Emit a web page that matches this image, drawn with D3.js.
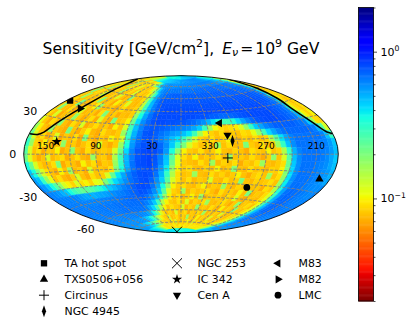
<!DOCTYPE html>
<html>
<head>
<meta charset="utf-8">
<script src="https://cdn.jsdelivr.net/npm/d3@7"></script>
<style>
  body { margin: 0; background: #fff; }
  text { font-family: "DejaVu Sans", sans-serif; fill: #000; }
</style>
</head>
<body>
<div id="chart"></div>
<script>
// grid of the map, degrees (galactic lon runs right to left)
var lonCenters = [177,171,165,159,153,147,141,135,129,123,117,111,105,99,93,87,81,75,69,63,57,51,45,39,33,27,21,15,9,3,-3,-9,-15,-21,-27,-33,-39,-45,-51,-57,-63,-69,-75,-81,-87,-93,-99,-105,-111,-117,-123,-129,-135,-141,-147,-153,-159,-165,-171,-177];
var latCenters = [87,81,75,69,63,57,51,45,39,33,27,21,15,9,3,-3,-9,-15,-21,-27,-33,-39,-45,-51,-57,-63,-69,-75,-81,-87];

// sensitivity, in 1e-3 GeV/cm2, one row per latitude
var sensRows = [
[350,350,350,350,350,350,350,350,350,350,350,350,350,350,350,350,350,350,350,350,380,380,380,380,380,380,380,380,380,380,450,450,450,450,450,450,450,450,450,450,470,470,470,470,470,470,470,470,470,470,500,500,500,500,500,470,470,450,400,380],
[110,100,100,110,120,120,135,150,170,190,250,290,320,350,380,400,420,440,450,450,460,470,480,500,510,520,530,530,530,540,550,560,570,580,580,590,590,590,600,600,600,600,600,600,600,600,590,590,580,580,560,530,500,470,450,400,380,350,330,300],
[90,120,82,78,100,90,180,82,78,90,120,82,78,100,90,110,135,220,320,460,530,560,580,590,590,590,590,590,590,600,600,600,620,620,620,620,630,630,630,640,640,640,640,640,640,640,630,630,620,620,600,590,560,530,500,470,420,350,200,135],
[85,78,120,82,90,75,78,190,82,100,78,90,120,78,82,90,78,85,100,150,250,450,560,620,640,640,640,650,650,650,650,670,670,670,670,680,680,680,700,700,700,700,700,700,700,700,680,680,680,670,670,670,650,640,620,590,500,250,100,85],
[82,100,78,200,85,78,90,82,78,170,82,75,90,78,120,75,85,78,82,100,170,300,500,620,670,700,710,730,730,730,730,730,730,730,730,730,730,730,730,730,730,730,730,730,730,730,730,730,730,730,710,700,700,680,670,630,530,230,90,82],
[78,200,82,90,78,100,210,78,75,85,78,120,82,70,78,200,82,75,78,90,150,300,500,640,730,760,760,760,760,760,760,760,760,760,760,760,760,760,760,760,760,760,760,760,760,760,760,760,760,760,760,760,740,730,700,670,450,110,82,85],
[90,78,170,78,82,75,82,90,200,78,75,82,70,100,78,82,120,78,75,82,135,280,480,630,730,780,780,780,780,780,780,780,780,780,780,780,780,780,780,780,780,780,780,780,780,780,780,780,780,780,780,760,760,730,670,590,250,100,82,90],
[78,90,75,82,210,78,70,82,78,100,180,78,75,82,70,78,90,75,78,85,135,280,480,630,740,780,800,800,800,800,800,800,800,800,800,800,800,800,800,800,800,800,800,800,800,800,800,800,800,800,780,760,730,700,670,470,150,90,78,85],
[82,190,78,75,90,70,82,120,75,78,82,70,90,200,75,82,70,78,75,82,180,350,530,670,760,800,800,800,800,800,800,800,800,780,780,760,730,730,700,700,700,730,760,780,800,800,800,800,800,800,780,760,730,700,640,400,120,90,82,90],
[90,78,120,70,78,90,75,180,82,70,78,90,70,120,78,70,210,78,82,100,220,420,590,700,780,800,800,780,780,760,760,730,700,640,590,500,400,320,280,280,320,420,530,620,700,760,780,800,800,800,780,760,730,700,640,500,200,100,85,100],
[110,82,70,90,75,190,78,70,90,75,120,70,78,90,75,82,70,100,78,120,280,470,620,730,760,760,730,700,670,640,620,590,530,450,300,170,105,90,85,90,95,120,180,300,450,530,620,670,730,730,730,730,730,700,670,620,450,170,90,85],
[170,100,78,70,180,82,75,70,210,78,70,82,100,75,70,90,78,75,82,170,300,500,640,760,780,730,670,620,560,530,470,400,280,160,100,85,78,90,75,82,78,90,85,110,170,280,420,530,620,670,700,700,700,700,700,680,640,500,250,120],
[230,120,78,90,70,78,120,70,82,75,90,70,200,78,70,82,75,100,82,120,320,530,670,760,780,730,640,560,470,400,300,200,120,85,78,90,75,82,100,78,75,85,78,90,78,85,150,250,400,530,620,670,670,670,670,670,670,620,470,300],
[300,170,85,75,100,78,70,78,180,75,82,70,78,90,70,120,78,70,82,170,350,560,700,780,800,780,700,590,450,300,200,120,90,78,85,75,170,78,90,75,78,200,82,75,90,78,82,170,300,470,590,670,670,670,670,670,640,620,560,460],
[250,120,78,90,70,82,78,100,70,78,190,78,70,90,75,78,82,78,120,220,420,620,760,800,830,800,730,560,350,180,100,82,78,90,75,82,100,78,75,85,78,70,90,82,78,100,78,85,150,300,500,620,670,670,670,670,640,620,560,470],
[220,120,82,70,78,120,75,82,90,70,78,90,75,70,170,78,82,70,150,280,480,640,760,800,830,780,640,470,250,120,90,78,100,75,82,78,90,75,170,78,82,75,90,78,70,82,180,78,120,250,470,600,670,670,670,670,640,600,530,450],
[350,220,120,85,75,78,90,200,70,82,78,70,100,78,90,70,82,78,170,300,500,670,780,800,830,760,620,450,220,110,82,78,75,90,78,170,75,85,78,90,70,82,78,90,170,78,75,82,90,220,450,590,670,670,670,640,620,590,530,470],
[470,350,200,120,90,78,70,100,78,170,75,82,70,120,78,82,75,90,200,350,530,670,760,780,800,730,560,380,180,100,82,90,78,75,85,78,100,75,82,190,78,75,90,78,82,75,85,82,100,200,420,590,670,670,670,640,620,590,560,500],
[560,470,300,170,110,78,90,75,70,82,120,78,70,90,78,82,120,230,400,530,640,730,780,800,780,670,500,300,150,90,78,82,170,78,75,90,78,85,75,82,100,78,70,82,90,78,170,78,90,180,400,580,670,670,670,640,620,590,560,530],
[620,560,470,350,250,180,120,100,85,120,90,100,85,110,120,200,300,420,500,590,670,730,780,800,730,590,450,250,120,90,78,90,75,82,78,120,78,75,90,78,82,200,78,75,85,78,82,90,78,170,380,560,670,680,670,640,620,600,590,600],
[640,620,590,560,500,450,350,280,250,230,240,250,280,320,380,450,500,560,620,670,730,780,800,780,670,530,350,180,100,82,90,78,75,85,100,75,82,78,170,78,75,85,78,90,78,82,70,90,82,150,330,530,670,700,680,670,640,620,600,620],
[640,640,630,630,620,620,600,560,530,520,500,520,530,540,560,590,620,640,670,700,730,780,760,700,590,450,250,120,85,78,170,75,85,78,82,90,78,70,90,78,82,75,100,78,200,75,82,78,90,120,280,500,670,710,700,670,640,630,620,630],
[640,640,640,640,630,630,630,620,620,620,620,630,630,640,640,650,670,680,700,710,730,730,670,590,480,320,170,100,78,90,75,82,100,78,170,75,82,78,85,75,90,78,120,78,70,82,78,75,90,110,260,470,640,700,710,680,650,640,630,640],
[640,640,640,640,640,640,640,640,650,650,650,650,650,670,670,670,680,680,680,680,680,640,560,450,280,150,100,82,78,90,78,120,75,85,78,90,170,78,75,82,90,78,70,82,180,78,82,90,78,110,250,460,630,700,710,680,670,650,640,640],
[630,630,630,630,630,640,640,640,640,650,650,650,650,670,670,670,670,670,670,670,620,530,420,270,150,100,78,90,82,78,120,75,85,78,180,78,82,75,90,78,70,100,78,85,75,190,82,78,90,110,240,450,590,670,680,670,650,640,630,630],
[620,620,620,620,620,620,620,620,620,630,630,630,630,630,630,630,620,600,590,530,470,350,220,120,90,78,85,75,120,78,82,90,70,82,78,90,78,170,75,82,78,85,75,120,78,82,75,90,85,120,220,420,560,640,670,650,640,630,610,620],
[590,590,590,590,590,590,590,590,590,590,590,590,590,580,560,530,470,430,350,280,200,135,100,85,78,120,78,82,90,75,85,78,170,78,82,75,100,78,85,78,82,120,78,75,90,82,78,85,100,135,200,380,500,590,620,620,600,590,590,590],
[560,560,560,560,560,560,560,550,530,510,470,460,430,400,350,300,250,200,160,120,100,85,82,90,78,100,82,120,78,82,90,78,85,100,78,82,120,78,90,82,78,85,100,82,90,78,85,100,120,160,190,320,470,530,560,580,580,560,560,560],
[500,480,470,460,460,440,420,400,380,360,350,300,250,200,170,140,110,100,90,90,90,100,90,85,90,100,90,85,90,100,90,85,100,90,90,85,100,90,90,100,90,100,90,90,100,90,100,110,135,150,170,270,400,450,470,480,490,500,500,500],
[400,400,400,400,400,400,400,400,400,400,400,400,400,400,400,400,400,400,400,400,350,350,350,350,350,350,350,350,350,350,350,350,350,350,350,350,350,350,350,350,350,350,350,350,350,350,350,350,350,350,400,400,400,400,400,400,400,400,400,400]
];

// the black outline
var arcLeftLon = [178.7,167.8,160.5,153.6,144.2,139.4,144,171.6,179.9];
var arcLeftLat = [15.2,15.3,17.7,24.3,35.8,49.2,61.3,72.9,74];
var arcRightLon = [-179.9,-174,-166.4,-159.3,-155.6,-163.2,-173,-179.4];
var arcRightLat = [72,68.9,59.9,48.9,37.6,24.9,16.9,15.4];

// sources
var srcNames = ["TA hot spot","TXS0506+056","Circinus","NGC 4945","NGC 253","IC 342","Cen A","M83","M82","LMC"];
var srcLon = [174,195.4,311.3,305.3,97.4,138.2,309.5,314.6,141.4,280.5];
var srcLat = [44,-19.6,-3.8,13.3,-88,10.6,19.4,32,40.6,-32.9];

var lonTicks = [150,90,30,330,270,210];
var latTicks = [60,30,0,-30,-60];
var cbarMajor = [1,0.1];
var cbarMinor = [2,0.9,0.8,0.7,0.6,0.5,0.4,0.3,0.2,0.09,0.08,0.07,0.06,0.05,0.04,0.03,0.02];
var cbarLabels = ["0","\u22121"];

var width = 415, height = 330;
var svg = d3.select("#chart").append("svg").attr("width", width).attr("height", height);

var cx = 181, cy = 154.2, rx = 157.3, ry = 78.5;
var xMax = 2 * Math.SQRT2, yMax = Math.SQRT2;
var xPos = d3.scaleLinear().domain([xMax, -xMax]).range([cx - rx, cx + rx]);
var yPos = d3.scaleLinear().domain([yMax, -yMax]).range([cy - ry, cy + ry]);

// hammer projection, lon/lat in degrees
function project(lon, lat) {
  if (lon > 180) lon -= 360;
  var l = lon * Math.PI / 360, p = lat * Math.PI / 180;
  var d = Math.sqrt(1 + Math.cos(p) * Math.cos(l));
  return [xPos(xMax * Math.cos(p) * Math.sin(l) / d), yPos(yMax * Math.sin(p) / d)];
}

// jet_r on a log norm
var norm = d3.scaleLog().domain([0.02, 2]).range([0, 1]).clamp(true);
var jetR = d3.scaleLinear().domain([0, 0.35, 0.66, 0.89, 1]).range([0, 0, 255, 255, 127]);
var jetG = d3.scaleLinear().domain([0, 0.125, 0.375, 0.64, 0.91, 1]).range([0, 0, 255, 255, 0, 0]);
var jetB = d3.scaleLinear().domain([0, 0.11, 0.34, 0.65, 1]).range([127, 255, 255, 0, 0]);
function color(v) {
  var t = 1 - norm(v);
  return d3.rgb(jetR(t), jetG(t), jetB(t)).formatHex();
}

var line = d3.line();
var clip = svg.append("clipPath").attr("id", "sky");
clip.append("ellipse").attr("cx", cx).attr("cy", cy).attr("rx", rx).attr("ry", ry);

var sky = svg.append("g").attr("clip-path", "url(#sky)");

// cells
var cells = [];
latCenters.forEach(function(lat, r) {
  lonCenters.forEach(function(lon, c) {
    cells.push({lon: lon, lat: lat, value: sensRows[r][c] / 1000});
  });
});
var half = 3;
function cellPath(d) {
  var pts = [];
  d3.range(0, 3).forEach(function(i) { pts.push(project(d.lon - half + i * half, d.lat + half)); });
  d3.range(0, 3).forEach(function(i) { pts.push(project(d.lon + half, d.lat + half - i * half)); });
  d3.range(0, 3).forEach(function(i) { pts.push(project(d.lon + half - i * half, d.lat - half)); });
  d3.range(0, 3).forEach(function(i) { pts.push(project(d.lon - half, d.lat - half + i * half)); });
  return line(pts) + "Z";
}
sky.selectAll(".cell").data(cells).enter().append("path")
  .attr("class", "cell")
  .attr("d", cellPath)
  .attr("fill", function(d) { return color(d.value); })
  .attr("stroke", function(d) { return color(d.value); })
  .attr("stroke-width", 0.5);

// grid: 30 deg meridians end at +-75, parallels every 15 deg
var grid = sky.append("g").attr("fill", "none").attr("stroke", "#808080")
  .attr("stroke-width", 0.9).attr("stroke-dasharray", "3.2,1.4");
d3.range(-150, 151, 30).forEach(function(lon) {
  grid.append("path").attr("d", line(d3.range(-75, 75.5, 2.5).map(function(lat) { return project(lon, lat); })));
});
d3.range(-75, 76, 15).forEach(function(lat) {
  grid.append("path").attr("d", line(d3.range(-180, 180.5, 5).map(function(lon) { return project(lon, lat); })));
});

// black arcs
var smooth = d3.line().curve(d3.curveCatmullRom);
[[arcLeftLon, arcLeftLat], [arcRightLon, arcRightLat]].forEach(function(a) {
  sky.append("path")
    .attr("d", smooth(a[0].map(function(lon, i) { return project(lon, a[1][i]); })))
    .attr("fill", "none").attr("stroke", "#000").attr("stroke-width", 1.5);
});

// outline of the map
svg.append("ellipse").attr("cx", cx).attr("cy", cy).attr("rx", rx).attr("ry", ry)
  .attr("fill", "none").attr("stroke", "#000").attr("stroke-width", 0.9);

// marker shapes
var markerKinds = [
  {type: d3.symbolSquare, size: 40},
  {type: d3.symbolTriangle, size: 30},
  {type: d3.symbolPlus, size: 35, line: true},
  {type: d3.symbolDiamond, size: 42, sx: 0.6},
  {type: d3.symbolTimes, size: 67, line: true},
  {type: d3.symbolStar, size: 32},
  {type: d3.symbolTriangle, size: 30, rot: 180},
  {type: d3.symbolTriangle, size: 30, rot: -90},
  {type: d3.symbolTriangle, size: 30, rot: 90},
  {type: d3.symbolCircle, size: 36}
];
function addMarker(g, k, x, y) {
  var t = "translate(" + x + "," + y + ")";
  if (k.rot) t += " rotate(" + k.rot + ")";
  if (k.sx) t += " scale(" + k.sx + ",1)";
  g.append("path").attr("d", d3.symbol().type(k.type).size(k.size)())
    .attr("transform", t)
    .attr("fill", k.line ? "none" : "#000")
    .attr("stroke", k.line ? "#000" : "none");
}
srcNames.forEach(function(n, i) {
  var p = project(srcLon[i], srcLat[i]);
  addMarker(sky, markerKinds[i], p[0], p[1]);
});

// tick labels on the map
lonTicks.forEach(function(lon) {
  svg.append("text").attr("x", project(lon, 0)[0]).attr("y", cy - 5.3)
    .attr("text-anchor", "middle").attr("font-size", "9px").text(lon);
});
latTicks.forEach(function(lat) {
  var p = project(-180, lat);
  svg.append("text").attr("x", p[0] > cx ? 2 * cx - p[0] - 7.5 : p[0] - 7.5).attr("y", p[1] - lat * 0.12 + 4)
    .attr("text-anchor", "end").attr("font-size", "11px").text(lat);
});

// title
var title = svg.append("text").attr("x", 42.5).attr("y", 53.5).attr("font-size", "15.6px");
title.append("tspan").text("Sensitivity [GeV/cm");
title.append("tspan").attr("dy", -6.3).attr("font-size", "11px").text("2");
title.append("tspan").attr("dy", 6.3).text("],");
title.append("tspan").attr("dx", 8).attr("font-style", "italic").text("E");
title.append("tspan").attr("dy", 2.5).attr("font-size", "11px").attr("font-style", "italic").text("\u03bd");
title.append("tspan").attr("dy", -2.5).attr("dx", 2).text("=");
title.append("tspan").attr("dx", 2).text("10");
title.append("tspan").attr("dy", -6.3).attr("font-size", "11px").text("9");
title.append("tspan").attr("dy", 6.3).text(" GeV");

// legend, three columns
var legendRows = [263.3, 279.3, 295.2, 311.3];
var legendCols = [44, 177, 278];
var legendSlots = [[0,0],[0,1],[0,2],[0,3],[1,0],[1,1],[1,2],[2,0],[2,1],[2,2]];
srcNames.forEach(function(n, i) {
  var col = legendCols[legendSlots[i][0]], row = legendRows[legendSlots[i][1]];
  addMarker(svg, markerKinds[i], col, row);
  svg.append("text").attr("x", col + 20.5).attr("y", row + 4).attr("font-size", "10.9px").text(n);
});

// colorbar
var cbarX = 358.5, cbarW = 15, cbarTop = 7.5, cbarBottom = 301;
var cbarScale = d3.scaleLog().domain([2, 0.02]).range([cbarTop, cbarBottom]);
var bar = svg.append("g");
var levels = d3.range(0, 256).map(function(i) { return 0.02 * Math.pow(100, i / 256); });
bar.selectAll("rect").data(levels).enter().append("rect")
  .attr("x", cbarX).attr("width", cbarW)
  .attr("y", function(d) { return cbarScale(d * Math.pow(100, 1 / 256)); })
  .attr("height", function(d) { return cbarScale(d) - cbarScale(d * Math.pow(100, 1 / 256)) + 0.5; })
  .attr("fill", color);
bar.append("rect").attr("x", cbarX).attr("y", cbarTop).attr("width", cbarW).attr("height", cbarBottom - cbarTop)
  .attr("fill", "none").attr("stroke", "#000").attr("stroke-width", 0.8);
var minorAxis = d3.axisRight(cbarScale).tickValues(cbarMinor).tickSize(2).tickFormat("");
var majorAxis = d3.axisRight(cbarScale).tickValues(cbarMajor).tickSize(3.5).tickFormat("");
[minorAxis, majorAxis].forEach(function(a) {
  var g = svg.append("g").attr("transform", "translate(" + (cbarX + cbarW) + ",0)").call(a);
  g.select(".domain").remove();
  g.selectAll("line").attr("stroke-width", 0.7);
});
cbarMajor.forEach(function(v, i) {
  var t = svg.append("text").attr("x", 380.5).attr("y", cbarScale(v) + 4).attr("font-size", "11px");
  t.append("tspan").text("10");
  t.append("tspan").attr("dy", -4.5).attr("font-size", "7.7px").text(cbarLabels[i]);
});
</script>
</body>
</html>
